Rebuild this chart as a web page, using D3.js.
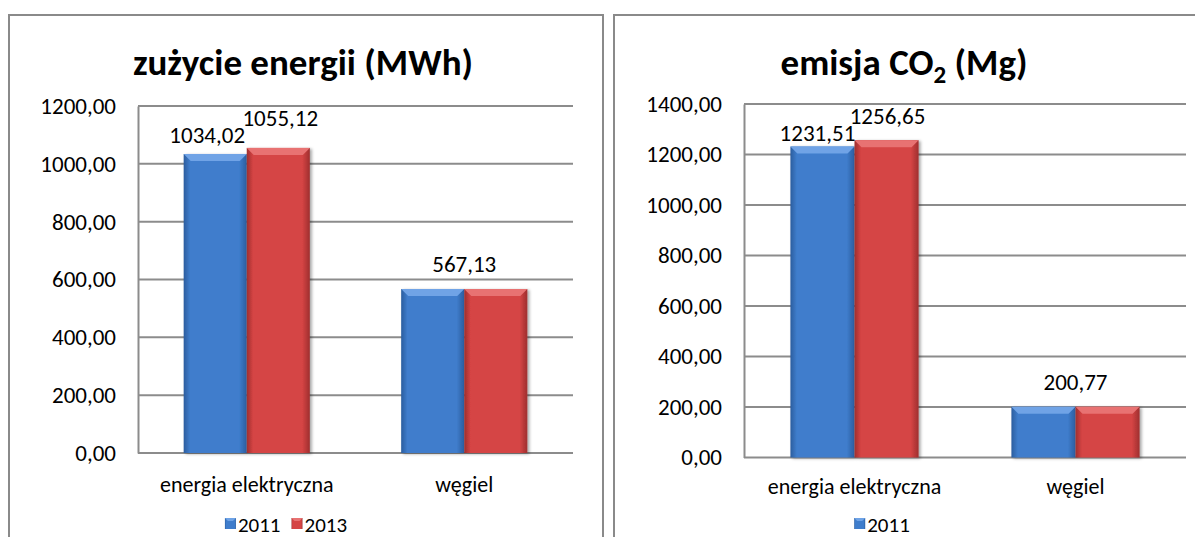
<!DOCTYPE html>
<html>
<head>
<meta charset="utf-8">
<script src="https://cdn.jsdelivr.net/npm/d3@7"></script>
<style>
  body { margin: 0; background: #fff; }
  svg { font-family: Carlito, Calibri, Lato, sans-serif; }
</style>
</head>
<body>
<div id="wrapper"></div>
<script>
/* global d3 */

// data
const categories = ["energia elektryczna", "węgiel"]
const years = ["2011", "2013"]

const energy2011 = [1034.02, 567.13]
const energy2013 = [1055.12, 567.13]
const energyTicks = [0, 200, 400, 600, 800, 1000, 1200]

const co2_2011 = [1231.51, 200.77]
const co2_2013 = [1256.65, 200.77]
const co2Ticks = [0, 200, 400, 600, 800, 1000, 1200, 1400]

const colors = {
  "2011": { main: "#3f7dcc", light: "#6fa3e6", dark: "#2b5d9e" },
  "2013": { main: "#d54444", light: "#e87272", dark: "#9e2e2e" },
}

const fmt = v => d3.format(".2f")(v).replace(".", ",")

const wrapper = d3.select("#wrapper")
  .append("svg")
    .attr("width", 1195)
    .attr("height", 537)

// gradients for the bevelled bars
const defs = wrapper.append("defs")
years.forEach(y => {
  const g = defs.append("linearGradient")
      .attr("id", "grad" + y)
      .attr("x1", "0").attr("x2", "1").attr("y1", "0").attr("y2", "0")
  g.append("stop").attr("offset", "0").attr("stop-color", colors[y].dark)
  g.append("stop").attr("offset", "0.1").attr("stop-color", colors[y].main)
  g.append("stop").attr("offset", "0.88").attr("stop-color", colors[y].main)
  g.append("stop").attr("offset", "1").attr("stop-color", colors[y].dark)
})
const shadow = defs.append("filter").attr("id", "shadow")
    .attr("x", "-20%").attr("y", "-20%").attr("width", "150%").attr("height", "150%")
shadow.append("feDropShadow")
    .attr("dx", 2).attr("dy", 1).attr("stdDeviation", 1.5)
    .attr("flood-color", "#000").attr("flood-opacity", 0.35)

function drawPanel(opts) {
  const panel = wrapper.append("g")

  // panel frame
  panel.append("rect")
      .attr("x", opts.frame[0])
      .attr("y", 15)
      .attr("width", opts.frame[1] - opts.frame[0])
      .attr("height", 600)
      .attr("fill", "none")
      .attr("stroke", "#8a8a8a")
      .attr("stroke-width", 2)

  const yScale = d3.scaleLinear()
    .domain([0, d3.max(opts.ticks)])
    .range([opts.bottom, opts.top])

  const xScale = d3.scaleBand()
    .domain(categories)
    .range([opts.left, opts.right])
    .paddingInner(0.42)
    .paddingOuter(0.21)

  const xSub = d3.scaleBand()
    .domain(years)
    .range([0, xScale.bandwidth()])

  // gridlines
  panel.append("g")
    .selectAll("line")
    .data(opts.ticks)
    .join("line")
      .attr("x1", opts.left)
      .attr("x2", opts.right)
      .attr("y1", d => yScale(d))
      .attr("y2", d => yScale(d))
      .attr("stroke", "#8c8c8c")
      .attr("stroke-width", 2)

  // y axis
  const yAxis = d3.axisLeft(yScale)
    .tickValues(opts.ticks)
    .tickFormat(fmt)
    .tickSize(0)
    .tickPadding(22)
  const yAxisGroup = panel.append("g")
      .attr("transform", `translate(${opts.left},0)`)
      .call(yAxis)
  yAxisGroup.attr("font-family", null).attr("font-size", null)
  yAxisGroup.select(".domain").attr("stroke", "#8c8c8c").attr("stroke-width", 2)
  yAxisGroup.selectAll("text")
      .attr("font-size", 23)
      .attr("fill", "#000")

  // x axis labels
  const xAxis = d3.axisBottom(xScale).tickSize(0).tickPadding(opts.catPad)
  const xAxisGroup = panel.append("g")
      .attr("transform", `translate(0,${opts.bottom})`)
      .call(xAxis)
  xAxisGroup.attr("font-family", null).attr("font-size", null)
  xAxisGroup.select(".domain").remove()
  xAxisGroup.selectAll("text")
      .attr("font-size", 22)
      .attr("fill", "#000")

  // bars
  const rows = categories.map((c, i) => ({
    category: c,
    values: years.map((y, j) => ({ year: y, value: opts.series[j][i] })),
  }))

  const groups = panel.append("g")
    .selectAll("g")
    .data(rows)
    .join("g")
      .attr("transform", d => `translate(${xScale(d.category)},0)`)

  const bars = groups.selectAll("g")
    .data(d => d.values)
    .join("g")
      .attr("filter", "url(#shadow)")

  bars.append("rect")
      .attr("x", d => xSub(d.year))
      .attr("y", d => yScale(d.value))
      .attr("width", xSub.bandwidth())
      .attr("height", d => yScale(0) - yScale(d.value))
      .attr("fill", d => `url(#grad${d.year})`)

  // top bevel
  const bev = 7
  bars.append("path")
      .attr("d", d => {
        const x0 = xSub(d.year), x1 = x0 + xSub.bandwidth(), y0 = yScale(d.value)
        return `M${x0},${y0}L${x1},${y0}L${x1 - bev},${y0 + bev}L${x0 + bev},${y0 + bev}Z`
      })
      .attr("fill", d => colors[d.year].light)

  // data labels
  panel.append("g")
    .selectAll("text")
    .data(opts.labels)
    .join("text")
      .attr("x", d => {
        const base = xScale(categories[d.cat])
        if (d.year === null) return base + xScale.bandwidth() / 2
        return base + xSub(d.year) + xSub.bandwidth() / 2 + d.dx
      })
      .attr("y", d => yScale(d.value) + d.dy)
      .attr("text-anchor", "middle")
      .attr("font-size", 23)
      .text(d => fmt(d.value))

  // title
  const title = panel.append("text")
      .attr("x", opts.titleX)
      .attr("y", 75)
      .attr("text-anchor", "middle")
      .attr("font-size", 37)
      .attr("font-weight", "bold")
  opts.title(title)

  // legend, centred on legendX
  const legend = panel.append("g")
  let cursor = 0
  opts.legend.forEach(y => {
    const item = legend.append("g").attr("transform", `translate(${cursor},0)`)
    item.append("rect")
        .attr("x", 0).attr("y", -14)
        .attr("width", 11).attr("height", 11)
        .attr("fill", `url(#grad${y})`)
    item.append("path")
        .attr("d", "M0,-14L11,-14L8,-11L3,-11Z")
        .attr("fill", colors[y].light)
    const t = item.append("text")
        .attr("x", 13)
        .attr("y", 0)
        .attr("font-size", 21)
        .text(y)
    cursor += 13 + t.node().getComputedTextLength() + 11
  })
  const legendWidth = cursor - 11
  legend.attr("transform", `translate(${opts.legendX - legendWidth / 2},532)`)
}

drawPanel({
  frame: [9, 603],
  left: 138, right: 573, top: 106, bottom: 453,
  catPad: 23,
  ticks: energyTicks,
  series: [energy2011, energy2013],
  labels: [
    { cat: 0, year: "2011", value: energy2011[0], dx: -8, dy: -11 },
    { cat: 0, year: "2013", value: energy2013[0], dx: 2, dy: -22 },
    { cat: 1, year: null, value: energy2011[1], dx: 0, dy: -17 },
  ],
  titleX: 303,
  title: t => t.text("zużycie energii (MWh)"),
  legendX: 286,
  legend: years,
})

drawPanel({
  frame: [614, 1210],
  left: 744, right: 1186, top: 104, bottom: 457.5,
  catPad: 21,
  ticks: co2Ticks,
  series: [co2_2011, co2_2013],
  labels: [
    { cat: 0, year: "2011", value: co2_2011[0], dx: -5, dy: -6 },
    { cat: 0, year: "2013", value: co2_2013[0], dx: 1, dy: -16 },
    { cat: 1, year: null, value: co2_2011[1], dx: 0, dy: -17 },
  ],
  titleX: 904,
  title: t => {
    t.append("tspan").text("emisja CO")
    t.append("tspan").attr("font-size", 25).attr("dy", 8).text("2")
    t.append("tspan").attr("dy", -8).text(" (Mg)")
  },
  legendX: 882,
  legend: ["2011"],
})
</script>
</body>
</html>
